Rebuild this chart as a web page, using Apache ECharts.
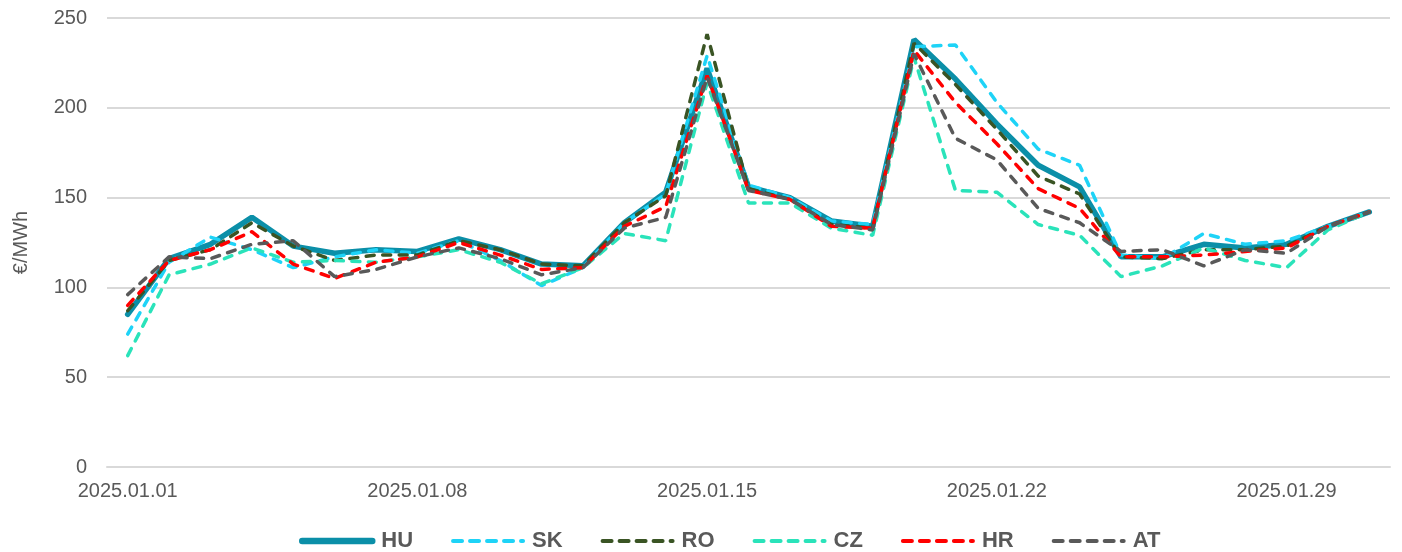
<!DOCTYPE html>
<html>
<head>
<meta charset="utf-8">
<script src="https://cdn.jsdelivr.net/npm/echarts@6/dist/echarts.min.js"></script>
<style>
  html, body { margin: 0; padding: 0; background: #fff; }
  #chart { width: 1402px; height: 552px; }
</style>
</head>
<body>
<div id="chart"></div>
<script>
const dates = [
  '2025.01.01', '2025.01.02', '2025.01.03', '2025.01.04', '2025.01.05', '2025.01.06', '2025.01.07',
  '2025.01.08', '2025.01.09', '2025.01.10', '2025.01.11', '2025.01.12', '2025.01.13', '2025.01.14',
  '2025.01.15', '2025.01.16', '2025.01.17', '2025.01.18', '2025.01.19', '2025.01.20', '2025.01.21',
  '2025.01.22', '2025.01.23', '2025.01.24', '2025.01.25', '2025.01.26', '2025.01.27', '2025.01.28',
  '2025.01.29', '2025.01.30', '2025.01.31'
]

// €/MWh, daily
const hu = [85, 116, 124, 139, 123, 119, 121, 120, 127, 121, 113, 112, 136, 153, 222, 156, 150, 137, 134, 238, 216, 191, 168, 156, 117, 117, 124, 122, 124, 134, 142]
const sk = [74, 114, 128, 121, 111, 117, 121, 119, 126, 115, 101, 111, 136, 152, 229, 157, 150, 137, 135, 234, 235, 203, 177, 168, 118, 116, 130, 124, 126, 134, 142]
const ro = [87, 115, 121, 136, 123, 115, 118, 118, 126, 121, 113, 112, 136, 151, 241, 155, 149, 135, 133, 236, 213, 188, 162, 152, 117, 116, 121, 121, 123, 134, 142]
const cz = [62, 107, 113, 122, 114, 115, 114, 117, 121, 114, 102, 111, 130, 126, 214, 147, 147, 133, 129, 228, 154, 153, 135, 129, 106, 112, 122, 115, 111, 132, 142]
const hr = [90, 115, 121, 131, 113, 105, 114, 117, 125, 118, 110, 111, 134, 145, 218, 154, 149, 134, 133, 232, 203, 180, 155, 144, 117, 117, 118, 120, 122, 134, 142]
const at = [96, 117, 116, 124, 126, 106, 110, 117, 122, 116, 107, 111, 133, 139, 217, 154, 149, 135, 132, 230, 183, 171, 144, 136, 120, 121, 112, 121, 119, 134, 142]

const yTicks = { min: 0, max: 250, step: 50 }

const font = 'Liberation Sans, Arial, sans-serif'
const dash = [8, 8.5]

const dashed = (name, data, color) => ({
  name,
  type: 'line',
  data,
  symbol: 'none',
  lineStyle: { color, width: 3.5, type: dash, cap: 'round' },
  itemStyle: { color }
})

const chart = echarts.init(document.getElementById('chart'))

chart.setOption({
  animation: false,
  textStyle: { fontFamily: font },
  grid: { left: 107, right: 12, top: 18, bottom: 85 },
  legend: {
    top: 525,
    left: 294,
    itemWidth: 70,
    itemHeight: 24,
    itemGap: 38,
    itemStyle: { opacity: 0 },
    textStyle: { fontSize: 22, fontWeight: 'bold', color: '#595959', fontFamily: font, padding: [0, 0, 0, 4] },
    data: [
      { name: 'HU', lineStyle: { width: 6.5, cap: 'round' } },
      { name: 'SK', lineStyle: { width: 4, type: [9, 8], cap: 'round' } },
      { name: 'RO', lineStyle: { width: 4, type: [9, 8], cap: 'round' } },
      { name: 'CZ', lineStyle: { width: 4, type: [9, 8], cap: 'round' } },
      { name: 'HR', lineStyle: { width: 4, type: [9, 8], cap: 'round' } },
      { name: 'AT', lineStyle: { width: 4, type: [9, 8], cap: 'round' } }
    ]
  },
  xAxis: {
    type: 'category',
    data: dates,
    boundaryGap: true,
    axisLine: { lineStyle: { color: '#d9d9d9', width: 2 } },
    axisTick: { interval: 6, length: 6, lineStyle: { color: '#d9d9d9', width: 2 } },
    axisLabel: { interval: 6, color: '#595959', fontSize: 20, margin: 14, fontFamily: font }
  },
  yAxis: {
    type: 'value',
    min: yTicks.min,
    max: yTicks.max,
    interval: yTicks.step,
    name: '€/MWh',
    nameLocation: 'middle',
    nameGap: 76,
    nameTextStyle: { color: '#595959', fontSize: 20, fontFamily: font },
    axisLine: { show: false },
    axisTick: { show: false },
    axisLabel: { color: '#595959', fontSize: 20, margin: 20, fontFamily: font },
    splitLine: { lineStyle: { color: '#d9d9d9', width: 2 } }
  },
  series: [
    {
      name: 'HU',
      type: 'line',
      data: hu,
      symbol: 'none',
      lineStyle: { color: '#0b8fa8', width: 5.5, cap: 'round' },
      itemStyle: { color: '#0b8fa8' }
    },
    dashed('SK', sk, '#1ed3f7'),
    dashed('RO', ro, '#3a5424'),
    dashed('CZ', cz, '#2ae3ba'),
    dashed('HR', hr, '#ff0000'),
    dashed('AT', at, '#595959')
  ]
})
</script>
</body>
</html>
